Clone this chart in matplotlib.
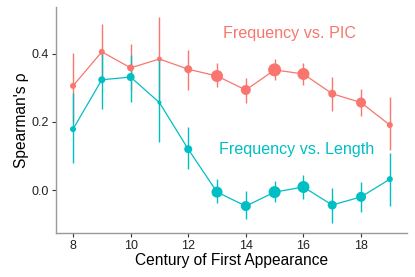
import matplotlib.pyplot as plt

plt.rcParams['font.family'] = ['Liberation Sans', 'DejaVu Sans']

# centuries on the x axis
century = [8, 9, 10, 11, 12, 13, 14, 15, 16, 17, 18, 19]

# Frequency vs. PIC
pic_rho = [0.306, 0.406, 0.359, 0.385, 0.355, 0.335, 0.294, 0.353, 0.341, 0.283, 0.257, 0.191]
pic_lo = [0.200, 0.320, 0.294, 0.250, 0.294, 0.303, 0.255, 0.324, 0.309, 0.232, 0.218, 0.118]
pic_hi = [0.403, 0.488, 0.430, 0.509, 0.410, 0.373, 0.329, 0.385, 0.373, 0.332, 0.297, 0.274]
pic_size = [6, 6, 7, 5, 8, 12, 10, 13, 12, 8, 10, 6]

# Frequency vs. Length
len_rho = [0.179, 0.324, 0.332, 0.257, 0.120, -0.006, -0.047, -0.006, 0.009, -0.044, -0.020, 0.032]
len_lo = [0.079, 0.238, 0.259, 0.141, 0.062, -0.038, -0.085, -0.035, -0.026, -0.097, -0.065, -0.047]
len_hi = [0.285, 0.400, 0.397, 0.382, 0.185, 0.032, -0.003, 0.026, 0.044, 0.006, 0.024, 0.109]
len_size = [6, 7, 8, 4, 8, 11, 10, 12, 12, 9, 10, 6]

red = '#F8766D'
cyan = '#00BFC4'

fig = plt.figure(figsize=(4.15, 2.77), dpi=100)
ax = fig.add_axes([0.135, 0.159, 0.846, 0.816])

for rho, lo, hi, size, col in [(pic_rho, pic_lo, pic_hi, pic_size, red),
                               (len_rho, len_lo, len_hi, len_size, cyan)]:
    ax.vlines(century, lo, hi, color=col, lw=1.0)
    ax.plot(century, rho, color=col, lw=0.9)
    ax.scatter(century, rho, s=[(d * 0.72) ** 2 for d in size], color=col, zorder=3, linewidths=0)

ax.text(15.5, 0.459, 'Frequency vs. PIC', color=red, fontsize=11.6, ha='center', va='center')
ax.text(15.75, 0.12, 'Frequency vs. Length', color=cyan, fontsize=11.6, ha='center', va='center')

ax.set_xlim(7.41, 19.6)
ax.set_ylim(-0.126, 0.538)
ax.set_xticks([8, 10, 12, 14, 16, 18])
ax.set_yticks([0.0, 0.2, 0.4])
ax.set_yticklabels(['0.0', '0.2', '0.4'])
ax.set_xlabel('Century of First Appearance', fontsize=11.2, labelpad=1)
ax.set_ylabel("Spearman's \u03c1", fontsize=11.2, labelpad=2)

for s in ['top', 'right']:
    ax.spines[s].set_visible(False)
for s in ['left', 'bottom']:
    ax.spines[s].set_color('#999999')
    ax.spines[s].set_linewidth(1.0)
ax.tick_params(length=3, width=0.8, color='#333333', labelsize=9, pad=2, labelcolor='#222222')

fig.savefig('out.png', dpi=100)
